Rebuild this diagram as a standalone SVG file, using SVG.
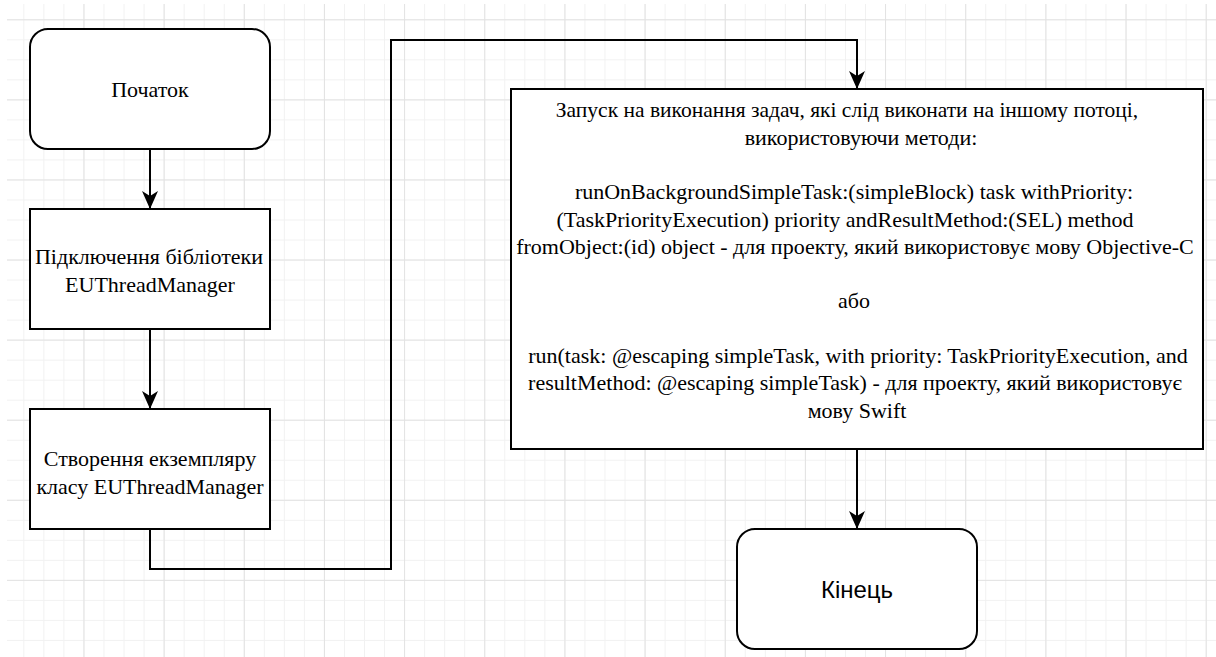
<svg xmlns="http://www.w3.org/2000/svg" width="1216" height="657" viewBox="0 0 1216 657">
  <style>
    .node { fill: #ffffff; stroke: #000000; stroke-width: 2; }
    .serif { font-family: "Liberation Serif", "Times New Roman", serif; font-size: 22px; fill: #000000; text-anchor: middle; }
    .sans { font-family: "Liberation Sans", Arial, sans-serif; font-size: 24px; fill: #000000; text-anchor: middle; }
    .edge { fill: none; stroke: #000000; stroke-width: 2; marker-end: url(#arrow); }
  </style>
  <defs>
    <pattern id="minor" patternUnits="userSpaceOnUse" x="3.3" y="-0.7" width="20.04" height="20.02">
      <path d="M0.5,0 V20.02 M0,0.5 H20.04" stroke="#f1f1f1" stroke-width="1" fill="none"/>
    </pattern>
    <pattern id="major" patternUnits="userSpaceOnUse" x="3.3" y="19.3" width="80.16" height="80.08">
      <path d="M0.5,0 V80.08 M0,0.5 H80.16" stroke="#e2e2e2" stroke-width="1" fill="none"/>
    </pattern>
    <marker id="arrow" markerUnits="userSpaceOnUse" viewBox="0 0 18 18" markerWidth="18" markerHeight="18" refX="18" refY="9" orient="auto">
      <path d="M0,1 L18,9 L0,17 L5,9 Z" fill="#000000"/>
    </marker>
  </defs>

  <rect x="0" y="0" width="1216" height="657" fill="#ffffff"/>
  <g id="grid">
    <rect x="7" y="4" width="1209" height="653" fill="url(#minor)"/>
    <rect x="7" y="4" width="1209" height="653" fill="url(#major)"/>
  </g>

  <g id="connectors">
    <path class="edge" d="M150,149 L150,209"/>
    <path class="edge" d="M150,329 L150,409"/>
    <path class="edge" d="M150,529 L150,569 L391,569 L391,40 L857,40 L857,89"/>
    <path class="edge" d="M857,449 L857,529"/>
  </g>

  <g id="start">
    <rect class="node" x="30" y="29" width="240" height="120" rx="18" ry="18"/>
    <text class="serif" x="150" y="97">Початок</text>
  </g>

  <g id="connect-library">
    <rect class="node" x="30" y="209" width="240" height="120"/>
    <text class="serif" x="149" y="264">Підключення бібліотеки</text>
    <text class="serif" x="150" y="291.5">EUThreadManager</text>
  </g>

  <g id="create-instance">
    <rect class="node" x="30" y="409" width="240" height="120"/>
    <text class="serif" x="150" y="466">Створення екземпляру</text>
    <text class="serif" x="150" y="493.5">класу EUThreadManager</text>
  </g>

  <g id="run-tasks">
    <rect class="node" x="511" y="89" width="692" height="360"/>
    <text class="serif" x="847" y="117.3" style="font-size:21.5px">Запуск на виконання задач, які слід виконати на іншому потоці,</text>
    <text class="serif" x="861" y="144.6">використовуючи методи:</text>
    <text class="serif" x="854" y="199.2">runOnBackgroundSimpleTask:(simpleBlock) task withPriority:</text>
    <text class="serif" x="845" y="226.5">(TaskPriorityExecution) priority andResultMethod:(SEL) method</text>
    <text class="serif" x="855" y="253.8">fromObject:(id) object - для проекту, який використовує мову Objective-C</text>
    <text class="serif" x="854" y="308.4">або</text>
    <text class="serif" x="858" y="363">run(task: @escaping simpleTask, with priority: TaskPriorityExecution, and</text>
    <text class="serif" x="855" y="390.3">resultMethod: @escaping simpleTask) - для проекту, який використовує</text>
    <text class="serif" x="857" y="417.6">мову Swift</text>
  </g>

  <g id="end">
    <rect class="node" x="737" y="529" width="240" height="120" rx="18" ry="18"/>
    <text class="sans" x="857" y="598">Кінець</text>
  </g>
</svg>
